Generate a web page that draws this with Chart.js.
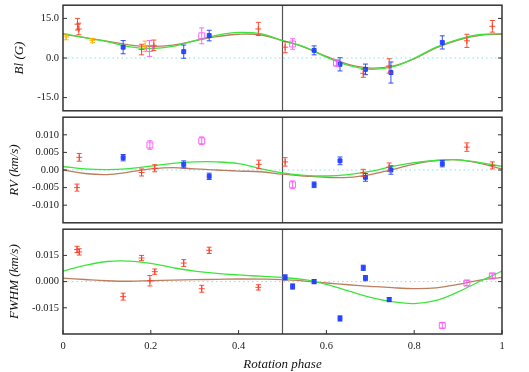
<!DOCTYPE html>
<html>
<head>
<meta charset="utf-8">
<script src="https://cdn.jsdelivr.net/npm/chart.js@4"></script>
<style>
  body { margin: 0; background: #fff; }
  #wrap { position: relative; width: 529px; height: 372px; }
  canvas { position: absolute; left: 0; }
</style>
</head>
<body>
<div id="wrap">
  <canvas id="blChart" width="529" height="116" style="top:0"></canvas>
  <canvas id="rvChart" width="529" height="116" style="top:112px"></canvas>
  <canvas id="fwChart" width="529" height="148" style="top:224px"></canvas>
</div>
<script>
// ── data: [phase, value, error] per observation group ──
const blRed    = [[0.033, 12.8, 2.2], [0.036, 11.0, 2.2], [0.179, 3.2, 2.0], [0.207, 4.8, 2.0], [0.445, 11.0, 2.5],
                  [0.506, 4.1, 2.1], [0.684, -5.8, 1.5], [0.743, -3.0, 2.7], [0.920, 6.5, 2.5], [0.978, 12.0, 2.2]];
const blBlue   = [[0.137, 4.1, 2.5], [0.275, 2.4, 2.5], [0.333, 8.5, 2.0], [0.572, 2.9, 1.7], [0.631, -2.4, 2.5],
                  [0.689, -4.3, 2.0], [0.747, -5.5, 4.0], [0.864, 5.9, 2.5]];
const blPink   = [[0.197, 3.6, 3.0], [0.316, 8.4, 3.0], [0.523, 5.3, 2.0], [0.623, -1.9, 1.2]];
const blOrange = [[0.007, 8.0, 1.1], [0.067, 6.6, 0.8], [0.187, 4.4, 2.0]];

const rvRed  = [[0.032, -0.0050, 0.0010], [0.037, 0.0036, 0.0011], [0.179, -0.0007, 0.0010], [0.209, 0.0005, 0.0010],
                [0.446, 0.0016, 0.0012], [0.506, 0.0023, 0.0012], [0.684, -0.0008, 0.0010], [0.743, 0.0008, 0.0012],
                [0.920, 0.0065, 0.0012], [0.978, 0.0013, 0.0010]];
const rvBlue = [[0.137, 0.0035, 0.0009], [0.275, 0.0016, 0.0010], [0.333, -0.0018, 0.0009], [0.572, -0.0042, 0.0008],
                [0.631, 0.0026, 0.0011], [0.689, -0.0021, 0.0011], [0.747, 0.0000, 0.0012], [0.864, 0.0018, 0.0009]];
const rvPink = [[0.198, 0.0071, 0.0012], [0.316, 0.0083, 0.0011], [0.523, -0.0042, 0.0011]];

const fwRed  = [[0.032, 0.0184, 0.0018], [0.037, 0.0170, 0.0018], [0.137, -0.0086, 0.0020], [0.179, 0.0135, 0.0015],
                [0.198, 0.0005, 0.0030], [0.209, 0.0057, 0.0015], [0.275, 0.0106, 0.0020], [0.316, -0.0041, 0.0020],
                [0.333, 0.0179, 0.0018], [0.445, -0.0033, 0.0015]];
const fwBlue = [[0.506, 0.0024, 0.0015], [0.523, -0.0028, 0.0015], [0.572, 0.0000, 0.0012], [0.631, -0.0211, 0.0015],
                [0.684, 0.0079, 0.0015], [0.689, 0.0020, 0.0015], [0.743, -0.0103, 0.0012]];
const fwPink = [[0.864, -0.0251, 0.0015], [0.920, -0.0008, 0.0015], [0.978, 0.0033, 0.0012]];

// model curves sampled along phase
const modelPhase = [0, 0.05, 0.1, 0.15, 0.2, 0.25, 0.3, 0.35, 0.4, 0.45, 0.5,
                    0.55, 0.6, 0.65, 0.7, 0.75, 0.8, 0.85, 0.9, 0.95, 1];
const blGreen = [9.2, 7.7, 6.2, 4.3, 3.6, 4.4, 6.6, 8.6, 9.7, 9.2, 6.6, 4.2, 0.3, -2.8, -4.3, -3.4, -0.1, 4.1, 7.1, 8.9, 9.2];
const blBrown = [9.0, 7.7, 6.4, 5.0, 4.4, 4.9, 6.5, 8.1, 9.0, 8.8, 6.6, 4.0, 0.6, -2.4, -3.8, -3.1, -0.3, 3.8, 6.8, 8.6, 9.0];
const rvGreen = [0.0010, 0.0003, 0.0001, 0.0004, 0.0011, 0.0019, 0.0023, 0.0023, 0.0018, 0.0004, -0.0008,
                 -0.0015, -0.0017, -0.0013, -0.0004, 0.0010, 0.0021, 0.0027, 0.0029, 0.0021, 0.0010];
const rvBrown = [0.0000, -0.0010, -0.0013, -0.0006, 0.0003, 0.0007, 0.0003, 0.0000, -0.0003, -0.0005, -0.0012,
                 -0.0017, -0.0021, -0.0021, -0.0013, 0.0001, 0.0017, 0.0027, 0.0029, 0.0019, 0.0003];
const fwGreen = [0.0060, 0.0093, 0.0115, 0.0117, 0.0104, 0.0080, 0.0060, 0.0047, 0.0038, 0.0031, 0.0024,
                 0.0011, -0.0016, -0.0053, -0.0090, -0.0115, -0.0126, -0.0108, -0.0059, 0.0002, 0.0060];
const fwBrown = [0.0020, 0.0012, 0.0005, 0.0002, 0.0005, 0.0008, 0.0011, 0.0013, 0.0015, 0.0014, 0.0011,
                 0.0003, -0.0008, -0.0018, -0.0027, -0.0035, -0.0040, -0.0036, -0.0016, 0.0009, 0.0024];

// ticks
const phaseTicks = [0, 0.2, 0.4, 0.6, 0.8, 1];
const phaseTickLabels = ['0', '0.2', '0.4', '0.6', '0.8', '1'];
const blTicks = [-15, 0, 15];
const blTickLabels = ['-15.0', '0.0', '15.0'];
const rvTicks = [-0.01, -0.005, 0, 0.005, 0.01];
const rvTickLabels = ['-0.010', '-0.005', '0.00', '0.005', '0.010'];
const fwTicks = [-0.015, 0, 0.015];
const fwTickLabels = ['-0.015', '0.000', '0.015'];

const SERIF = "'Liberation Serif', 'DejaVu Serif', serif";
const RED = 'rgba(255,59,34,0.9)';
const BLUE = 'rgba(30,60,255,0.9)';
const PINK = 'rgba(255,85,255,0.9)';
const ORANGE = 'rgba(255,174,0,0.9)';
const GREEN = '#3be63b';
const BROWN = '#bb7f5f';

// ── draws frame, inner ticks, zero line, phase 0.5 divider and error bars ──
const panelDecor = {
  id: 'panelDecor',
  beforeDatasetsDraw(chart) {
    const { ctx, chartArea: a, scales: { x, y } } = chart;
    ctx.save();
    const y0 = y.getPixelForValue(0);
    ctx.strokeStyle = '#86e2ef';
    ctx.lineWidth = 1;
    ctx.setLineDash([1.5, 3]);
    ctx.beginPath(); ctx.moveTo(a.left, y0); ctx.lineTo(a.right, y0); ctx.stroke();
    ctx.setLineDash([]);
    const xm = x.getPixelForValue(0.5);
    ctx.strokeStyle = '#555';
    ctx.lineWidth = 1.2;
    ctx.beginPath(); ctx.moveTo(xm, a.top); ctx.lineTo(xm, a.bottom); ctx.stroke();
    ctx.restore();
  },
  afterDatasetsDraw(chart) {
    const { ctx, scales: { y } } = chart;
    ctx.save();
    ctx.lineWidth = 1;
    chart.data.datasets.forEach((ds, i) => {
      if (!ds.errors) return;
      const meta = chart.getDatasetMeta(i);
      ctx.strokeStyle = ds.borderColor;
      meta.data.forEach((pt, j) => {
        const v = ds.data[j].y, e = ds.errors[j];
        const yt = y.getPixelForValue(v + e), yb = y.getPixelForValue(v - e);
        ctx.beginPath();
        ctx.moveTo(pt.x, yt); ctx.lineTo(pt.x, yb);
        ctx.moveTo(pt.x - 2.5, yt); ctx.lineTo(pt.x + 2.5, yt);
        ctx.moveTo(pt.x - 2.5, yb); ctx.lineTo(pt.x + 2.5, yb);
        ctx.stroke();
      });
    });
    ctx.restore();
  },
  afterDraw(chart, args, opts) {
    const { ctx, chartArea: a, scales: { x, y } } = chart;
    ctx.save();
    ctx.strokeStyle = '#333';
    ctx.lineWidth = 1;
    ctx.beginPath();
    y.ticks.forEach(t => {
      const py = y.getPixelForValue(t.value);
      ctx.moveTo(a.left, py); ctx.lineTo(a.left + 4, py);
      ctx.moveTo(a.right, py); ctx.lineTo(a.right - 4, py);
    });
    if (opts.xTicks) {
      x.ticks.forEach(t => {
        const px = x.getPixelForValue(t.value);
        ctx.moveTo(px, a.bottom); ctx.lineTo(px, a.bottom - 4);
      });
    }
    ctx.stroke();
    ctx.lineWidth = 1.5;
    ctx.strokeRect(a.left, a.top, a.right - a.left, a.bottom - a.top);
    ctx.restore();
  }
};

function pointSet(rows, color, style, radius, filled) {
  return {
    type: 'scatter',
    data: rows.map(r => ({ x: r[0], y: r[1] })),
    errors: rows.map(r => r[2]),
    borderColor: color,
    backgroundColor: filled ? color : 'rgba(255,255,255,0)',
    pointStyle: style,
    pointRadius: radius,
    pointBorderWidth: 1,
    order: 1,
  };
}

function curve(values, color) {
  return {
    type: 'line',
    data: modelPhase.map((p, i) => ({ x: p, y: values[i] })),
    borderColor: color,
    borderWidth: 1.3,
    pointRadius: 0,
    tension: 0.4,
    fill: false,
    order: 2,
  };
}

function makePanel(id, cfg) {
  return new Chart(document.getElementById(id), {
    type: 'scatter',
    data: { datasets: cfg.datasets },
    options: {
      responsive: false,
      maintainAspectRatio: false,
      animation: false,
      devicePixelRatio: 1,
      layout: { padding: cfg.padding },
      plugins: {
        legend: { display: false },
        tooltip: { enabled: false },
        panelDecor: { xTicks: cfg.showX },
      },
      scales: {
        x: {
          type: 'linear',
          min: 0,
          max: 1,
          display: cfg.showX,
          afterBuildTicks: s => { s.ticks = phaseTicks.map(v => ({ value: v })); },
          afterFit: s => {
            s.height = cfg.showX ? 38 : 0;
            s.paddingLeft = 0; s.paddingRight = 0;
          },
          grid: { display: false, drawTicks: false },
          border: { display: false },
          ticks: {
            padding: 6,
            color: '#222',
            font: { family: SERIF, size: 10.5 },
            maxRotation: 0,
            callback: (v, i) => phaseTickLabels[i],
          },
          title: {
            display: true,
            text: 'Rotation phase',
            color: '#111',
            padding: { top: 0, bottom: 0 },
            font: { family: SERIF, size: 13, style: 'italic' },
          },
        },
        y: {
          type: 'linear',
          min: cfg.min,
          max: cfg.max,
          afterBuildTicks: s => { s.ticks = cfg.ticks.map(v => ({ value: v })); },
          afterFit: s => {
            s.width = 63;
            s.paddingTop = 0; s.paddingBottom = 0;
          },
          grid: { display: false, drawTicks: false },
          border: { display: false },
          ticks: {
            padding: 4,
            color: '#222',
            font: { family: SERIF, size: 10.5 },
            callback: (v, i) => cfg.tickLabels[i],
          },
          title: {
            display: true,
            text: cfg.title,
            color: '#111',
            padding: { top: cfg.titlePad, bottom: 0 },
            font: { family: SERIF, size: 13, style: 'italic' },
          },
        },
      },
    },
    plugins: [panelDecor],
  });
}

makePanel('blChart', {
  title: 'Bl (G)', titlePad: 12, min: -20, max: 20,
  ticks: blTicks, tickLabels: blTickLabels, showX: false,
  padding: { top: 4, right: 27, bottom: 1, left: 0 },
  datasets: [
    curve(blGreen, GREEN), curve(blBrown, BROWN),
    pointSet(blOrange, ORANGE, 'cross', 3, true),
    pointSet(blPink, PINK, 'rect', 4.2, false),
    pointSet(blBlue, BLUE, 'rect', 2.8, true),
    pointSet(blRed, RED, 'cross', 3, true),
  ],
});

makePanel('rvChart', {
  title: 'RV (km/s)', titlePad: 7, min: -0.015, max: 0.015,
  ticks: rvTicks, tickLabels: rvTickLabels, showX: false,
  padding: { top: 3, right: 27, bottom: 1, left: 0 },
  datasets: [
    curve(rvGreen, GREEN), curve(rvBrown, BROWN),
    pointSet(rvPink, PINK, 'rect', 4.2, false),
    pointSet(rvBlue, BLUE, 'rect', 2.8, true),
    pointSet(rvRed, RED, 'cross', 3, true),
  ],
});

makePanel('fwChart', {
  title: 'FWHM (km/s)', titlePad: 7, min: -0.03, max: 0.03,
  ticks: fwTicks, tickLabels: fwTickLabels, showX: true,
  padding: { top: 3, right: 27, bottom: 0, left: 0 },
  datasets: [
    curve(fwGreen, GREEN), curve(fwBrown, BROWN),
    pointSet(fwPink, PINK, 'rect', 4.2, false),
    pointSet(fwBlue, BLUE, 'rect', 2.8, true),
    pointSet(fwRed, RED, 'cross', 3, true),
  ],
});
</script>
</body>
</html>
